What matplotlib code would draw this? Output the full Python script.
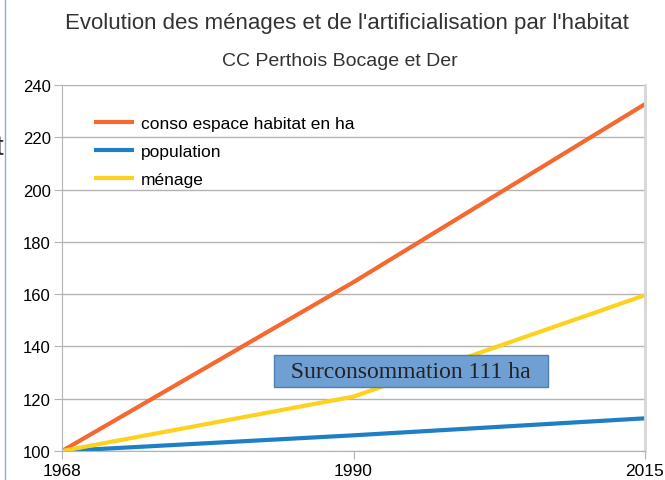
import matplotlib.pyplot as plt
import matplotlib.lines as mlines
import numpy as np

plt.rcParams['font.family'] = ['Liberation Sans', 'DejaVu Sans']

# donnees (base 100 en 1968)
years = ['1968', '1990', '2015']
conso = [100, 164.6, 232.7]
population = [100, 106.0, 112.5]
menage = [100, 120.8, 159.6]

fig = plt.figure(figsize=(6.65, 4.81), dpi=100)
ax = fig.add_axes([62 / 665, 1 - 452 / 481, (645 - 62) / 665, (452 - 86) / 481])

x = np.arange(len(years))
ax.plot(x, conso, color='#f5682f', lw=3, label='conso espace habitat en ha', solid_capstyle='butt')
ax.plot(x, population, color='#1f7fc4', lw=3, label='population', solid_capstyle='butt')
ax.plot(x, menage, color='#fcd21e', lw=3, label='ménage', solid_capstyle='butt')

ax.set_xlim(0, 2)
ax.set_ylim(100, 240)
ax.set_yticks(range(100, 241, 20))
ax.set_xticks(x)
ax.set_xticklabels(years)
ax.grid(axis='y', color='#b3b3b3', lw=1)
ax.set_axisbelow(True)
ax.tick_params(axis='y', length=6, color='#b3b3b3', labelsize=12, pad=2)
ax.tick_params(axis='x', length=6, color='#b3b3b3', labelsize=12.5, pad=3)
ax.spines['top'].set_visible(False)
ax.spines['left'].set_color('#b3b3b3')
ax.spines['bottom'].set_color('#b3b3b3')
ax.spines['right'].set_color('#d6d6d6')
ax.spines['right'].set_linewidth(2)

leg = ax.legend(loc='upper left', bbox_to_anchor=(32 / 583, 1 - 31 / 366), frameon=False,
                borderaxespad=0, borderpad=0, fontsize=12.5, handlelength=2.3,
                labelspacing=0.75, handletextpad=0.4)

ax.text(1.197, 130.6, '  Surconsommation 111 ha  ', family='Liberation Serif', fontsize=17,
        ha='center', va='center', color='#222222',
        bbox=dict(boxstyle='square,pad=0.22', fc='#6f9fd3', ec='#4f7fb3', lw=1))

fig.text(347 / 665, 1 - 24 / 481, "Evolution des ménages et de l'artificialisation par l'habitat",
         ha='center', va='center', fontsize=16, color='#333333')
fig.text(340 / 665, 1 - 62 / 481, 'CC Perthois Bocage et Der', ha='center', va='center',
         fontsize=14, color='#333333')

# bord gauche du cadre et lettre coupee
fig.add_artist(mlines.Line2D([5 / 665, 5 / 665], [0, 1], color='#8fb0d8', lw=1))
fig.text(-4 / 665, 1 - 148 / 481, 't', ha='left', va='center', fontsize=20, color='#333333')

fig.savefig('out.png', dpi=100)
